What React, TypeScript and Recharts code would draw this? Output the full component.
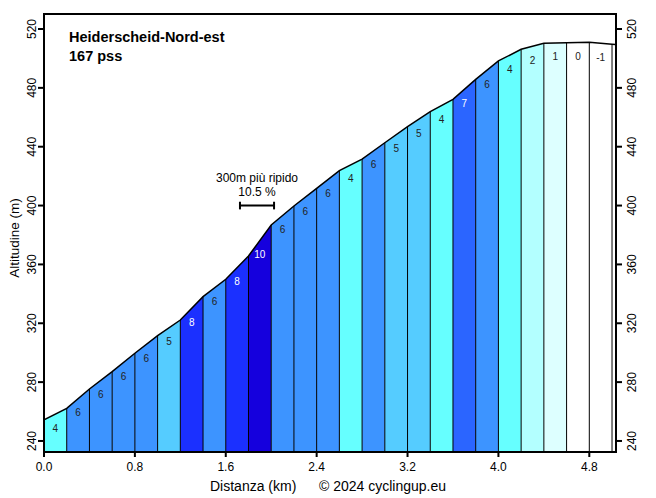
import React from 'react';
import {
  ComposedChart,
  Area,
  Line,
  Scatter,
  XAxis,
  YAxis,
  ReferenceLine,
  ReferenceArea,
  ReferenceDot,
} from 'recharts';

// profile points (km, altitude m)
const KM = [0, 0.2, 0.4, 0.6, 0.8, 1.0, 1.2, 1.4, 1.6, 1.8, 2.0, 2.2, 2.4, 2.6, 2.8, 3.0, 3.2, 3.4, 3.6, 3.8, 4.0, 4.2, 4.4, 4.6, 4.8, 5.0, 5.03];
const ALT = [254.3, 262.2, 275.3, 287.1, 299.6, 311.6, 322.2, 338.1, 349.9, 365.7, 386.8, 399.7, 411.7, 423.7, 431.6, 442.7, 453.6, 463.8, 472.2, 485.8, 498.3, 506.2, 510.3, 510.7, 511.0, 509.6, 509.4];
// gradient (%) of each 200 m segment
const GRADE = [4, 6, 6, 6, 6, 5, 8, 6, 8, 10, 6, 6, 6, 4, 6, 5, 5, 4, 7, 6, 4, 2, 1, 0, -1];

const X_TICKS = [0, 0.8, 1.6, 2.4, 3.2, 4.0, 4.8];
const Y_TICKS = [240, 280, 320, 360, 400, 440, 480, 520];
const X_MAX = 5.035;
const Y_MIN = 232.5;
const Y_MAX = 530.2;

const gradeColor = (g: number) => {
  if (g >= 10) return '#1500DD';
  if (g >= 8) return '#1B30FF';
  if (g >= 7) return '#2B65FF';
  if (g >= 6) return '#3D94FF';
  if (g >= 5) return '#55CCFF';
  if (g >= 3) return '#66FFFF';
  if (g >= 2) return '#B3FFFF';
  if (g >= 1) return '#DDFFFF';
  return '#FFFFFF';
};

const FONT = '"Liberation Sans", Arial, sans-serif';

const profile = KM.map((km, i) => ({ km, alt: ALT[i] }));
const segments = KM.slice(0, -1).map((km, i) => ({
  grade: i < GRADE.length ? GRADE[i] : 0,
  data: [
    { km, alt: ALT[i] },
    { km: KM[i + 1], alt: ALT[i + 1] },
  ],
}));
const labels = GRADE.map((g, i) => ({
  km: (KM[i] + KM[i + 1]) / 2,
  alt: (ALT[i] + ALT[i + 1]) / 2,
  g,
}));

const VTick = ({ x, y, payload }: any) => (
  <text
    x={x}
    y={y}
    transform={`rotate(-90 ${x} ${y})`}
    textAnchor="middle"
    dominantBaseline="central"
    fontSize={12}
    fontFamily={FONT}
    fill="#000"
  >
    {payload.value}
  </text>
);

const HTick = ({ x, y, payload }: any) => (
  <text x={x} y={y} dy="0.71em" textAnchor="middle" fontSize={12} fontFamily={FONT} fill="#000">
    {Number(payload.value).toFixed(1)}
  </text>
);

const GradeLabel = ({ cx, cy, payload }: any) => {
  const g = payload.g;
  return (
    <text
      x={cx}
      y={cy + 14}
      textAnchor="middle"
      dominantBaseline="central"
      fontSize={10}
      fontFamily={FONT}
      fill={g >= 7 ? '#fff' : '#222'}
    >
      {g}
    </text>
  );
};

const SteepLabel = ({ cx, cy }: any) => (
  <g>
    <text x={cx} y={cy - 28} textAnchor="middle" dominantBaseline="central" fontSize={12} fontFamily={FONT} fill="#000">
      300m più ripido
    </text>
    <text x={cx} y={cy - 14} textAnchor="middle" dominantBaseline="central" fontSize={12} fontFamily={FONT} fill="#000">
      10.5 %
    </text>
  </g>
);

export default function App() {
  return (
    <div style={{ position: 'absolute', left: 0, top: 0, width: 656, height: 498, background: '#fff' }}>
      <ComposedChart width={656} height={498} data={profile} margin={{ top: 14, right: 0, left: 0, bottom: 0 }}>
        <XAxis
          dataKey="km"
          type="number"
          domain={[0, X_MAX]}
          ticks={X_TICKS}
          interval={0}
          height={46}
          tick={<HTick />}
          tickSize={5}
          tickMargin={5}
          stroke="#000"
          strokeWidth={2}
          allowDataOverflow
        />
        <YAxis
          yAxisId="l"
          type="number"
          domain={[Y_MIN, Y_MAX]}
          ticks={Y_TICKS}
          interval={0}
          width={44}
          tick={<VTick />}
          tickSize={6}
          tickMargin={6}
          stroke="#000"
          strokeWidth={2}
          allowDataOverflow
        />
        <YAxis
          yAxisId="r"
          orientation="right"
          type="number"
          domain={[Y_MIN, Y_MAX]}
          ticks={Y_TICKS}
          interval={0}
          width={40}
          tick={<VTick />}
          tickSize={6}
          tickMargin={10}
          stroke="#000"
          strokeWidth={2}
          allowDataOverflow
        />
        {segments.map((s, i) => (
          <Area
            key={`seg-${i}`}
            yAxisId="l"
            data={s.data}
            dataKey="alt"
            type="linear"
            baseValue={Y_MIN}
            fill={gradeColor(s.grade)}
            fillOpacity={1}
            stroke="none"
            isAnimationActive={false}
            dot={false}
            activeDot={false}
          />
        ))}
        {KM.slice(1, -1).map((km, i) => (
          <ReferenceLine
            key={`div-${i}`}
            yAxisId="l"
            segment={[
              { x: km, y: Y_MIN },
              { x: km, y: ALT[i + 1] },
            ]}
            stroke="#000"
            strokeWidth={1}
          />
        ))}
        <Line
          yAxisId="l"
          dataKey="alt"
          type="linear"
          stroke="#000"
          strokeWidth={1.5}
          dot={false}
          activeDot={false}
          isAnimationActive={false}
        />
        <Scatter
          yAxisId="l"
          data={labels}
          dataKey="alt"
          shape={<GradeLabel />}
          isAnimationActive={false}
        />
        <ReferenceLine yAxisId="l" segment={[{ x: 1.725, y: 400 }, { x: 2.025, y: 400 }]} stroke="#000" strokeWidth={2} />
        <ReferenceLine yAxisId="l" segment={[{ x: 1.725, y: 397.4 }, { x: 1.725, y: 402.6 }]} stroke="#000" strokeWidth={2} />
        <ReferenceLine yAxisId="l" segment={[{ x: 2.025, y: 397.4 }, { x: 2.025, y: 402.6 }]} stroke="#000" strokeWidth={2} />
        <ReferenceDot yAxisId="l" x={1.875} y={400} r={0} shape={<SteepLabel />} />
        <ReferenceArea
          yAxisId="l"
          x1={0}
          x2={X_MAX}
          y1={Y_MIN}
          y2={Y_MAX}
          fill="none"
          fillOpacity={0}
          stroke="#000"
          strokeWidth={2}
        />
      </ComposedChart>
      <div style={{ position: 'absolute', left: 69, top: 28, fontFamily: FONT, fontWeight: 'bold', fontSize: 14.5, lineHeight: '19px', color: '#000' }}>
        <div>Heiderscheid-Nord-est</div>
        <div>167 pss</div>
      </div>
      <div
        style={{
          position: 'absolute',
          left: 14,
          top: 238,
          transform: 'translate(-50%, -50%) rotate(-90deg)',
          fontFamily: FONT,
          fontSize: 13.5,
          whiteSpace: 'nowrap',
          color: '#000',
        }}
      >
        Altitudine (m)
      </div>
      <div style={{ position: 'absolute', left: 210, top: 478, fontFamily: FONT, fontSize: 14, whiteSpace: 'nowrap', color: '#000' }}>
        Distanza (km)
      </div>
      <div style={{ position: 'absolute', left: 319, top: 478, fontFamily: FONT, fontSize: 14, whiteSpace: 'nowrap', color: '#000' }}>
        © 2024 cyclingup.eu
      </div>
    </div>
  );
}
